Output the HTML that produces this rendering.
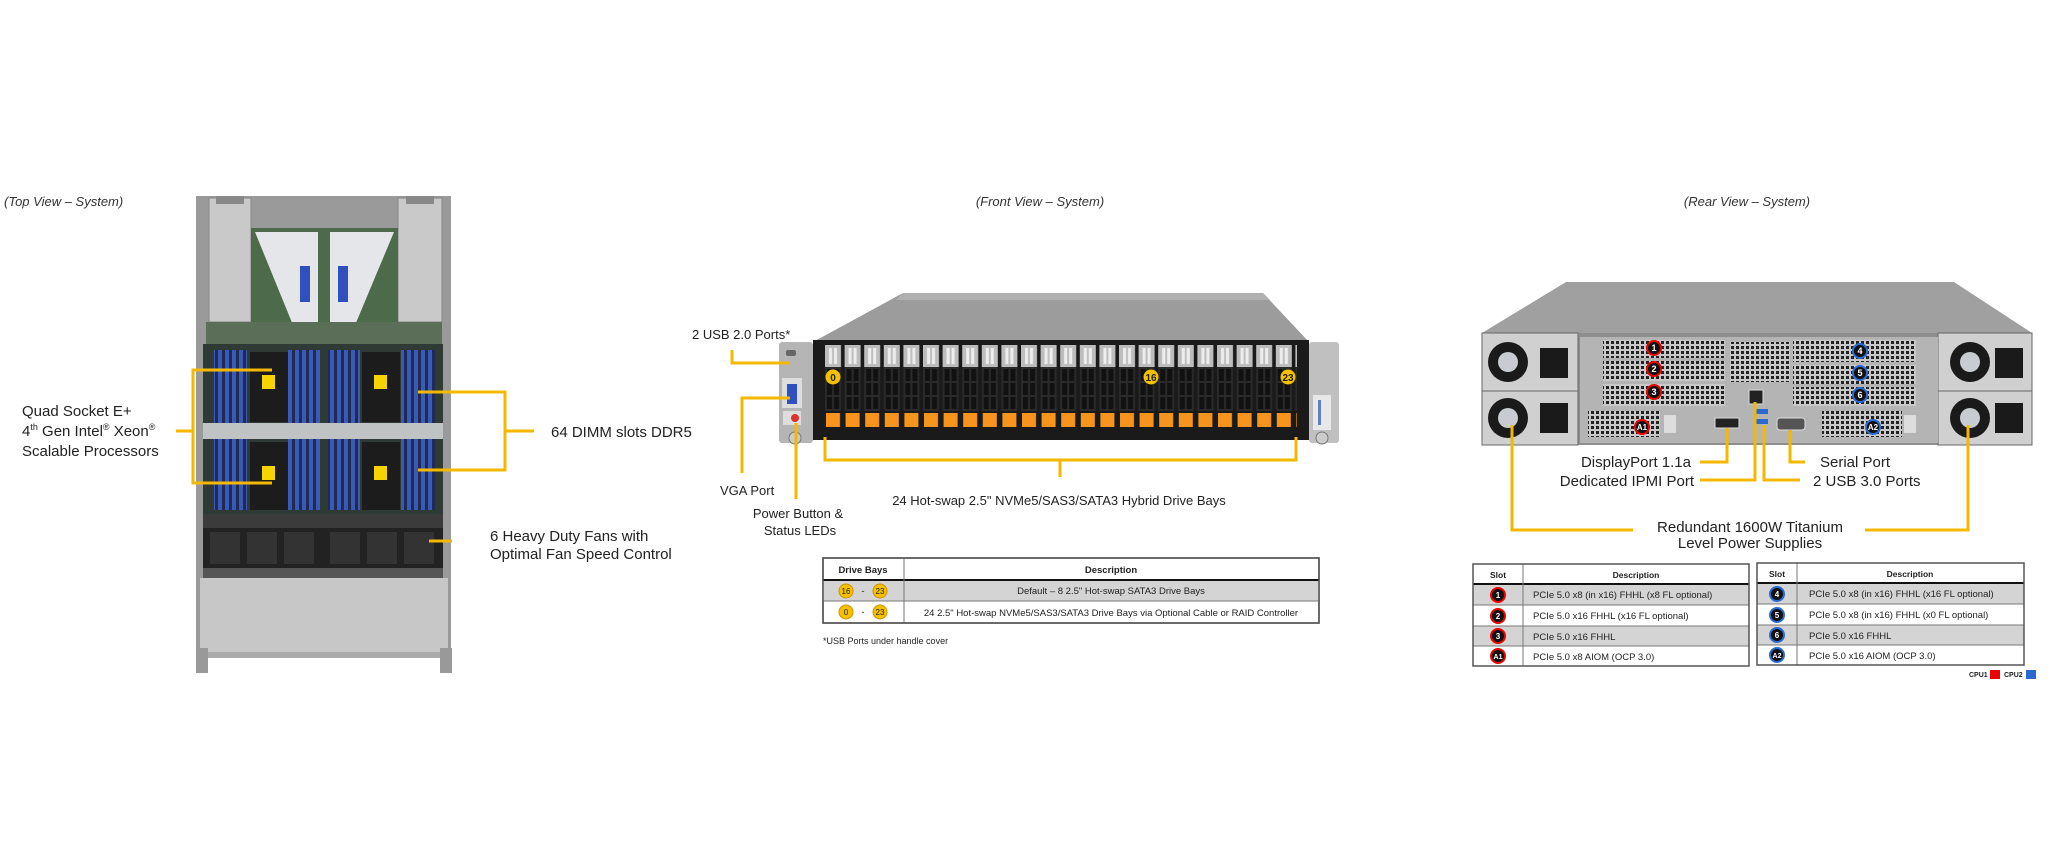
<!DOCTYPE html>
<html><head><meta charset="utf-8"><style>
html,body{margin:0;padding:0;background:#fff;}
svg{display:block}
text{font-family:"Liberation Sans",sans-serif}
</style></head><body>
<svg width="2048" height="853" viewBox="0 0 2048 853" xmlns="http://www.w3.org/2000/svg" fill="#222">
<defs>
<pattern id="bay" x="825" y="0" width="19.6" height="853" patternUnits="userSpaceOnUse">
<rect x="0" y="345" width="16" height="22" fill="#bdbdbd"/>
<rect x="4" y="348" width="3" height="16" fill="#eee"/><rect x="9" y="348" width="3" height="16" fill="#eee"/>
<rect x="0" y="367" width="16" height="44" fill="#2a2a2a"/>
<rect x="2" y="369" width="5" height="12" fill="#111"/><rect x="9" y="369" width="5" height="12" fill="#111"/>
<rect x="2" y="383" width="5" height="12" fill="#111"/><rect x="9" y="383" width="5" height="12" fill="#111"/>
<rect x="2" y="397" width="5" height="12" fill="#111"/><rect x="9" y="397" width="5" height="12" fill="#111"/>
<rect x="1" y="413" width="14" height="14" fill="#f7941d"/>
</pattern>
<pattern id="grill" width="5" height="5" patternUnits="userSpaceOnUse">
<rect width="5" height="5" fill="#c8c8c8"/><rect x="1" y="1" width="3" height="3" fill="#222"/>
</pattern>
<pattern id="dimm" width="7" height="10" patternUnits="userSpaceOnUse">
<rect width="7" height="10" fill="#1f2b55"/><rect x="1" width="4" height="10" fill="#3a5bb5"/>
</pattern>
</defs>

<!-- ===== TOP VIEW ===== -->
<text x="4" y="206" font-size="13" font-style="italic" fill="#333">(Top View – System)</text>
<rect x="196" y="196" width="255" height="460" fill="#9a9a9a"/>
<rect x="209" y="198" width="42" height="124" fill="#c9c9c9" stroke="#888"/>
<rect x="398" y="198" width="44" height="124" fill="#c9c9c9" stroke="#888"/>
<rect x="216" y="196" width="28" height="8" fill="#888"/><rect x="406" y="196" width="28" height="8" fill="#888"/>
<rect x="251" y="228" width="147" height="112" fill="#4d6a4a"/>
<path d="M255 232 H318 V330 H295 Z" fill="#e4e6ea"/><path d="M394 232 H330 V330 H353 Z" fill="#e4e6ea"/>
<rect x="300" y="266" width="10" height="36" fill="#3050c0"/><rect x="338" y="266" width="10" height="36" fill="#3050c0"/>
<rect x="206" y="322" width="236" height="22" fill="#5b6e58"/>
<rect x="203" y="344" width="240" height="170" fill="#2f3a34"/>
<rect x="214" y="350" width="33" height="160" fill="url(#dimm)"/>
<rect x="288" y="350" width="32" height="160" fill="url(#dimm)"/>
<rect x="328" y="350" width="32" height="160" fill="url(#dimm)"/>
<rect x="401" y="350" width="34" height="160" fill="url(#dimm)"/>
<rect x="250" y="352" width="38" height="70" fill="#1c1c1c"/><rect x="362" y="352" width="38" height="70" fill="#1c1c1c"/>
<rect x="250" y="442" width="38" height="68" fill="#1c1c1c"/><rect x="362" y="442" width="38" height="68" fill="#1c1c1c"/>
<rect x="262" y="375" width="13" height="14" fill="#f5d400"/><rect x="374" y="375" width="13" height="14" fill="#f5d400"/>
<rect x="262" y="466" width="13" height="14" fill="#f5d400"/><rect x="374" y="466" width="13" height="14" fill="#f5d400"/>
<rect x="203" y="423" width="240" height="16" fill="#bfc3c4"/>
<rect x="203" y="514" width="240" height="14" fill="#3b3b3b"/>
<rect x="203" y="528" width="240" height="40" fill="#222"/>
<rect x="210" y="532" width="30" height="32" fill="#333"/><rect x="247" y="532" width="30" height="32" fill="#333"/><rect x="284" y="532" width="30" height="32" fill="#333"/>
<rect x="330" y="532" width="30" height="32" fill="#333"/><rect x="367" y="532" width="30" height="32" fill="#333"/><rect x="404" y="532" width="30" height="32" fill="#333"/>
<rect x="203" y="568" width="240" height="10" fill="#555"/>
<rect x="200" y="578" width="248" height="74" fill="#c7c7c7"/>
<rect x="196" y="648" width="12" height="25" fill="#999"/><rect x="440" y="648" width="12" height="25" fill="#999"/>
<rect x="208" y="652" width="232" height="6" fill="#aaa"/>

<g stroke="#f5b800" stroke-width="3" fill="none">
<path d="M272 370 H193 V483 H272"/><path d="M176 431 H193"/>
<path d="M418 392 H505 V470 H418"/><path d="M505 431 H534"/>
<path d="M429 541 H452"/>
</g>
<text x="22" y="416" font-size="15">Quad Socket E+</text>
<text x="22" y="436" font-size="15">4<tspan font-size="9" dy="-6">th</tspan><tspan dy="6"> Gen Intel</tspan><tspan font-size="9" dy="-6">®</tspan><tspan dy="6"> Xeon</tspan><tspan font-size="9" dy="-6">®</tspan></text>
<text x="22" y="456" font-size="15">Scalable Processors</text>
<text x="551" y="437" font-size="15">64 DIMM slots DDR5</text>
<text x="490" y="541" font-size="15">6 Heavy Duty Fans with</text>
<text x="490" y="559" font-size="15">Optimal Fan Speed Control</text>

<!-- ===== FRONT VIEW ===== -->
<text x="1040" y="206" font-size="13" font-style="italic" fill="#333" text-anchor="middle">(Front View – System)</text>
<path d="M903 293 H1263 L1309 342 H813 Z" fill="#9c9c9c"/>
<path d="M903 293 H1263 L1270 300 H896 Z" fill="#b0b0b0"/>
<rect x="813" y="340" width="496" height="100" fill="#1a1a1a"/>
<rect x="779" y="342" width="34" height="101" fill="#b5b5b5" rx="3"/>
<rect x="1309" y="342" width="30" height="101" fill="#c0c0c0" rx="3"/>
<rect x="786" y="350" width="10" height="6" fill="#666" rx="2"/>
<rect x="782" y="378" width="20" height="30" fill="#ddd"/>
<rect x="787" y="384" width="10" height="20" fill="#3050c0"/>
<rect x="783" y="411" width="18" height="14" fill="#ddd"/><circle cx="795" cy="418" r="4" fill="#e03030"/>
<circle cx="795" cy="438" r="6" fill="#ccc" stroke="#777"/>
<circle cx="1322" cy="438" r="6" fill="#ccc" stroke="#777"/>
<rect x="1313" y="395" width="18" height="35" fill="#e8e8e8"/>
<rect x="1318" y="400" width="3" height="25" fill="#6080c0"/>
<rect x="825" y="340" width="472" height="95" fill="url(#bay)"/>
<g font-size="10" font-weight="bold" text-anchor="middle">
<circle cx="833" cy="377" r="7.5" fill="#f5c000"/><text x="833" y="381" fill="#222">0</text>
<circle cx="1151" cy="377" r="7.5" fill="#f5c000"/><text x="1151" y="381" fill="#222">16</text>
<circle cx="1288" cy="377" r="7.5" fill="#f5c000"/><text x="1288" y="381" fill="#222">23</text>
</g>
<g stroke="#f5b800" stroke-width="3" fill="none">
<path d="M732 350 V363 H790"/>
<path d="M742 473 V398 H790"/>
<path d="M796 423 V499"/>
<path d="M825 437 V460 H1296 V437"/><path d="M1060 460 V477"/>
</g>
<text x="692" y="339" font-size="13">2 USB 2.0 Ports*</text>
<text x="720" y="495" font-size="13">VGA Port</text>
<text x="798" y="518" font-size="13" text-anchor="middle">Power Button &amp;</text>
<text x="800" y="535" font-size="13" text-anchor="middle">Status LEDs</text>
<text x="1059" y="505" font-size="13" text-anchor="middle">24 Hot-swap 2.5" NVMe5/SAS3/SATA3  Hybrid Drive Bays</text>

<!-- front table -->
<rect x="823" y="558" width="496" height="65" fill="#fff" stroke="#555" stroke-width="1.5"/>
<rect x="823" y="580" width="496" height="21" fill="#d4d4d4"/>
<line x1="823" y1="580" x2="1319" y2="580" stroke="#111" stroke-width="2"/>
<line x1="823" y1="601" x2="1319" y2="601" stroke="#777"/>
<line x1="904" y1="558" x2="904" y2="623" stroke="#777"/>
<rect x="823" y="558" width="496" height="65" fill="none" stroke="#555" stroke-width="1.5"/>
<g font-size="9.5">
<text x="863" y="573" text-anchor="middle" font-weight="bold">Drive Bays</text>
<text x="1111" y="573" text-anchor="middle" font-weight="bold">Description</text>
<text x="1111" y="594" text-anchor="middle">Default – 8 2.5" Hot-swap SATA3  Drive Bays</text>
<text x="1111" y="616" text-anchor="middle">24 2.5" Hot-swap NVMe5/SAS3/SATA3   Drive Bays via Optional Cable or RAID Controller</text>
<circle cx="846" cy="591" r="7" fill="#f5c000" stroke="#d09000"/><text x="846" y="594" text-anchor="middle" font-size="8">16</text>
<text x="863" y="594" text-anchor="middle">-</text>
<circle cx="880" cy="591" r="7" fill="#f5c000" stroke="#d09000"/><text x="880" y="594" text-anchor="middle" font-size="8">23</text>
<circle cx="846" cy="612" r="7" fill="#f5c000" stroke="#d09000"/><text x="846" y="615" text-anchor="middle" font-size="8">0</text>
<text x="863" y="615" text-anchor="middle">-</text>
<circle cx="880" cy="612" r="7" fill="#f5c000" stroke="#d09000"/><text x="880" y="615" text-anchor="middle" font-size="8">23</text>
<text x="823" y="644" font-size="9">*USB  Ports under handle cover</text>
</g>

<!-- ===== REAR VIEW ===== -->
<text x="1747" y="206" font-size="13" font-style="italic" fill="#333" text-anchor="middle">(Rear View – System)</text>
<path d="M1566 282 H1954 L2032 333 H1482 Z" fill="#a0a0a0"/>
<rect x="1482" y="333" width="550" height="112" fill="#8e8e8e"/>
<g fill="#d0d0d0" stroke="#666">
<rect x="1482" y="333" width="96" height="58"/><rect x="1482" y="391" width="96" height="54"/>
<rect x="1938" y="333" width="94" height="58"/><rect x="1938" y="391" width="94" height="54"/>
</g>
<g fill="#1a1a1a">
<circle cx="1508" cy="362" r="20"/><circle cx="1508" cy="418" r="20"/>
<circle cx="1970" cy="362" r="20"/><circle cx="1970" cy="418" r="20"/>
<rect x="1540" y="348" width="28" height="30"/><rect x="1540" y="403" width="28" height="30"/>
<rect x="1995" y="348" width="28" height="30"/><rect x="1995" y="403" width="28" height="30"/>
</g>
<g fill="#c8ccd0"><circle cx="1508" cy="362" r="10"/><circle cx="1508" cy="418" r="10"/><circle cx="1970" cy="362" r="10"/><circle cx="1970" cy="418" r="10"/></g>
<rect x="1580" y="337" width="358" height="106" fill="#b4b4b4"/>
<rect x="1603" y="340" width="122" height="66" fill="url(#grill)"/>
<rect x="1793" y="340" width="123" height="66" fill="url(#grill)"/>
<rect x="1730" y="342" width="60" height="40" fill="url(#grill)"/>
<g fill="#b4b4b4"><rect x="1603" y="358" width="122" height="3"/><rect x="1603" y="381" width="122" height="3"/><rect x="1793" y="362" width="123" height="3"/><rect x="1793" y="384" width="123" height="3"/></g>
<rect x="1588" y="411" width="72" height="26" fill="url(#grill)"/>
<rect x="1822" y="411" width="80" height="26" fill="url(#grill)"/>
<rect x="1664" y="415" width="12" height="18" fill="#ddd"/><rect x="1904" y="415" width="12" height="18" fill="#ddd"/>
<rect x="1715" y="418" width="24" height="10" fill="#222" stroke="#ddd"/>
<rect x="1749" y="390" width="14" height="14" fill="#222" stroke="#ddd"/>
<rect x="1756" y="409" width="12" height="5" fill="#2a6ad0"/><rect x="1756" y="419" width="12" height="5" fill="#2a6ad0"/>
<rect x="1777" y="418" width="28" height="12" fill="#555" rx="3" stroke="#ddd"/>
<g font-size="9" font-weight="bold" text-anchor="middle">
<circle cx="1654" cy="348" r="7" fill="#111" stroke="#e00" stroke-width="2"/><text x="1654" y="351" fill="#fff">1</text>
<circle cx="1654" cy="369" r="7" fill="#111" stroke="#e00" stroke-width="2"/><text x="1654" y="372" fill="#fff">2</text>
<circle cx="1654" cy="392" r="7" fill="#111" stroke="#e00" stroke-width="2"/><text x="1654" y="395" fill="#fff">3</text>
<circle cx="1642" cy="427" r="7" fill="#111" stroke="#e00" stroke-width="2"/><text x="1642" y="430" fill="#fff" font-size="8">A1</text>
<circle cx="1860" cy="351" r="7" fill="#111" stroke="#2a6ad0" stroke-width="2"/><text x="1860" y="354" fill="#fff">4</text>
<circle cx="1860" cy="373" r="7" fill="#111" stroke="#2a6ad0" stroke-width="2"/><text x="1860" y="376" fill="#fff">5</text>
<circle cx="1860" cy="395" r="7" fill="#111" stroke="#2a6ad0" stroke-width="2"/><text x="1860" y="398" fill="#fff">6</text>
<circle cx="1873" cy="427" r="7" fill="#111" stroke="#2a6ad0" stroke-width="2"/><text x="1873" y="430" fill="#fff" font-size="8">A2</text>
</g>
<g stroke="#f5b800" stroke-width="3" fill="none">
<path d="M1727 428 V462 H1700"/>
<path d="M1755 402 V480 H1700"/>
<path d="M1764 425 V480 H1800"/>
<path d="M1790 430 V462 H1805"/>
<path d="M1512 425 V530 H1633"/>
<path d="M1968 425 V530 H1865"/>
</g>
<text x="1691" y="467" font-size="15" text-anchor="end">DisplayPort 1.1a</text>
<text x="1694" y="486" font-size="15" text-anchor="end">Dedicated IPMI  Port</text>
<text x="1820" y="467" font-size="15">Serial Port</text>
<text x="1813" y="486" font-size="15">2 USB 3.0 Ports</text>
<text x="1750" y="532" font-size="15" text-anchor="middle">Redundant  1600W Titanium</text>
<text x="1750" y="548" font-size="15" text-anchor="middle">Level Power Supplies</text>

<g font-size="9.5">
<g transform="translate(1473,564)">
<rect width="276" height="102" fill="#fff"/>
<rect y="20" width="276" height="21" fill="#d4d4d4"/><rect y="62" width="276" height="20" fill="#d4d4d4"/>
<line x1="0" y1="20" x2="276" y2="20" stroke="#111" stroke-width="2"/>
<line x1="0" y1="41" x2="276" y2="41" stroke="#777"/><line x1="0" y1="62" x2="276" y2="62" stroke="#777"/><line x1="0" y1="82" x2="276" y2="82" stroke="#777"/>
<line x1="50" y1="0" x2="50" y2="102" stroke="#777"/>
<rect width="276" height="102" fill="none" stroke="#555" stroke-width="1.5"/>
<text x="25" y="14" text-anchor="middle" font-weight="bold" font-size="8.5">Slot</text>
<text x="163" y="14" text-anchor="middle" font-weight="bold" font-size="8.5">Description</text>
<text x="60" y="34">PCIe 5.0 x8 (in x16) FHHL  (x8 FL optional)</text>
<text x="60" y="55">PCIe 5.0 x16 FHHL  (x16 FL optional)</text>
<text x="60" y="76">PCIe 5.0 x16 FHHL</text>
<text x="60" y="96">PCIe 5.0 x8 AIOM (OCP 3.0)</text>
<g font-weight="bold" text-anchor="middle" font-size="8">
<circle cx="25" cy="31" r="7" fill="#111" stroke="#e00" stroke-width="2"/><text x="25" y="34" fill="#fff">1</text>
<circle cx="25" cy="52" r="7" fill="#111" stroke="#e00" stroke-width="2"/><text x="25" y="55" fill="#fff">2</text>
<circle cx="25" cy="72" r="7" fill="#111" stroke="#e00" stroke-width="2"/><text x="25" y="75" fill="#fff">3</text>
<circle cx="25" cy="92" r="7" fill="#111" stroke="#e00" stroke-width="2"/><text x="25" y="95" fill="#fff" font-size="7">A1</text>
</g></g>
<g transform="translate(1757,563)">
<rect width="267" height="102" fill="#fff"/>
<rect y="20" width="267" height="21" fill="#d4d4d4"/><rect y="62" width="267" height="20" fill="#d4d4d4"/>
<line x1="0" y1="20" x2="267" y2="20" stroke="#111" stroke-width="2"/>
<line x1="0" y1="41" x2="267" y2="41" stroke="#777"/><line x1="0" y1="62" x2="267" y2="62" stroke="#777"/><line x1="0" y1="82" x2="267" y2="82" stroke="#777"/>
<line x1="40" y1="0" x2="40" y2="102" stroke="#777"/>
<rect width="267" height="102" fill="none" stroke="#555" stroke-width="1.5"/>
<text x="20" y="14" text-anchor="middle" font-weight="bold" font-size="8.5">Slot</text>
<text x="153" y="14" text-anchor="middle" font-weight="bold" font-size="8.5">Description</text>
<text x="52" y="34">PCIe 5.0 x8 (in x16) FHHL  (x16 FL optional)</text>
<text x="52" y="55">PCIe 5.0 x8 (in x16) FHHL  (x0 FL optional)</text>
<text x="52" y="76">PCIe 5.0 x16 FHHL</text>
<text x="52" y="96">PCIe 5.0 x16 AIOM (OCP 3.0)</text>
<g font-weight="bold" text-anchor="middle" font-size="8">
<circle cx="20" cy="31" r="7" fill="#111" stroke="#2a6ad0" stroke-width="2"/><text x="20" y="34" fill="#fff">4</text>
<circle cx="20" cy="52" r="7" fill="#111" stroke="#2a6ad0" stroke-width="2"/><text x="20" y="55" fill="#fff">5</text>
<circle cx="20" cy="72" r="7" fill="#111" stroke="#2a6ad0" stroke-width="2"/><text x="20" y="75" fill="#fff">6</text>
<circle cx="20" cy="92" r="7" fill="#111" stroke="#2a6ad0" stroke-width="2"/><text x="20" y="95" fill="#fff" font-size="7">A2</text>
</g></g>
</g>
<text x="1969" y="677" font-size="7" font-weight="bold">CPU1</text>
<rect x="1990" y="670" width="10" height="9" fill="#e00"/>
<text x="2004" y="677" font-size="7" font-weight="bold">CPU2</text>
<rect x="2026" y="670" width="10" height="9" fill="#2a6ad0"/>
</svg>
</body></html>
